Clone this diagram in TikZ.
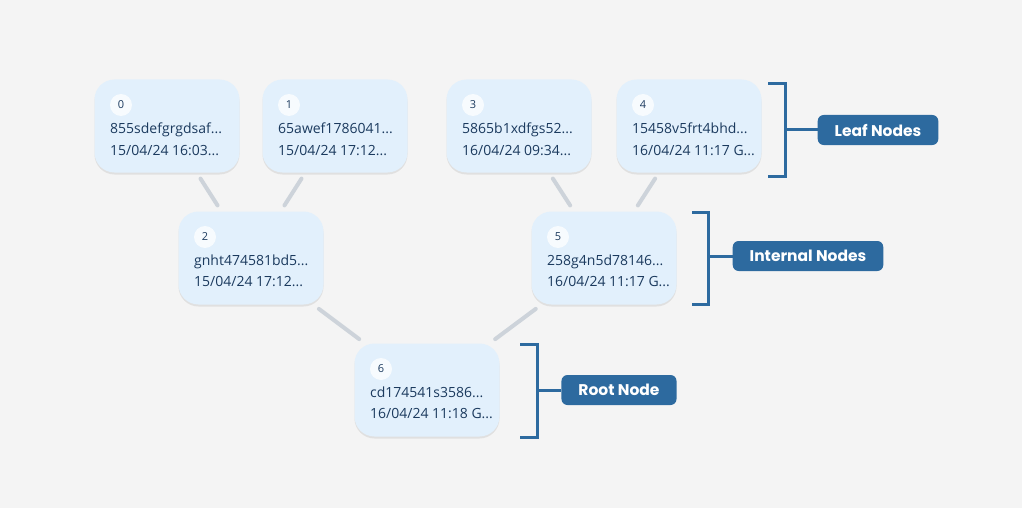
\documentclass[tikz,border=0pt]{standalone}
\usepackage{fontspec}
\setmainfont{Open Sans}
\newfontfamily\labelfont{Poppins}
\usetikzlibrary{positioning,shadows}

\definecolor{bgcol}{HTML}{F4F4F4}
\definecolor{boxcol}{HTML}{E2F0FC}
\definecolor{txtcol}{HTML}{1B3A5E}
\definecolor{badgecol}{HTML}{F7FBFE}
\definecolor{linkcol}{HTML}{CDD3DA}
\definecolor{tagcol}{HTML}{2D6A9F}

\tikzset{
  blk/.style={rectangle, rounded corners=20pt, fill=boxcol,
    minimum width=145pt, minimum height=93pt,
    drop shadow={shadow xshift=0pt, shadow yshift=-2pt, opacity=0.08, fill=black}},
  badge/.style={circle, fill=badgecol, minimum size=22pt, inner sep=0pt,
    text=txtcol, font=\fontsize{11}{13}\selectfont},
  txt/.style={anchor=west, align=left, inner sep=0pt, text=txtcol,
    font=\fontsize{14}{21.5}\selectfont},
  link/.style={draw=linkcol, line width=4pt, line cap=round,
    shorten >=7pt, shorten <=7pt},
  brk/.style={draw=tagcol, line width=3pt},
  tag/.style={rectangle, rounded corners=6pt, fill=tagcol, text=white,
    minimum height=30pt, inner xsep=17pt,
    font=\labelfont\bfseries\fontsize{15.5}{17}\selectfont}
}

\begin{document}
\begin{tikzpicture}[x=1pt, y=-1pt]
  \fill[bgcol] (0,0) rectangle (1022,508);

  % tree nodes
  \node[blk] (n0) at (167,126) {};
  \node[blk] (n1) at (335,126) {};
  \node[blk] (n3) at (519,126) {};
  \node[blk] (n4) at (689,126) {};
  \node[blk] (n2) at (251,258) {};
  \node[blk] (n5) at (604,258) {};
  \node[blk] (n6) at (427,390) {};

  % badges
  \node[badge] (b0) at ([shift={(-46,-21)}]n0) {0};
  \node[badge] (b1) at ([shift={(-46,-21)}]n1) {1};
  \node[badge] (b3) at ([shift={(-46,-21)}]n3) {3};
  \node[badge] (b4) at ([shift={(-46,-21)}]n4) {4};
  \node[badge] (b2) at ([shift={(-46,-21)}]n2) {2};
  \node[badge] (b5) at ([shift={(-46,-21)}]n5) {5};
  \node[badge] (b6) at ([shift={(-46,-21)}]n6) {6};

  % texts
  \node[txt] (t0) at ([shift={(-57,13)}]n0) {855sdefgrgdsaf...\\15/04/24 16:03...};
  \node[txt] (t1) at ([shift={(-57,13)}]n1) {65awef1786041...\\15/04/24 17:12...};
  \node[txt] (t3) at ([shift={(-57,13)}]n3) {5865b1xdfgs52...\\16/04/24 09:34...};
  \node[txt] (t4) at ([shift={(-57,13)}]n4) {15458v5frt4bhd...\\16/04/24 11:17 G...};
  \node[txt] (t2) at ([shift={(-57,13)}]n2) {gnht474581bd5...\\15/04/24 17:12...};
  \node[txt] (t5) at ([shift={(-57,13)}]n5) {258g4n5d78146...\\16/04/24 11:17 G...};
  \node[txt] (t6) at ([shift={(-57,13)}]n6) {cd174541s3586...\\16/04/24 11:18 G...};

  % links
  \draw[link] (n0) -- (n2);
  \draw[link] (n1) -- (n2);
  \draw[link] (n3) -- (n5);
  \draw[link] (n4) -- (n5);
  \draw[link] (n2) -- (n6);
  \draw[link] (n5) -- (n6);

  % brackets and tags
  \node[tag] (leaf) at (878,130) {Leaf Nodes};
  \node[tag] (internal) at (808,256) {Internal Nodes};
  \node[tag] (root) at (619,390) {Root Node};

  \draw[brk] (768,84) -| (785,176) -- (768,176);
  \coordinate (c0) at (785,130);
  \draw[brk] (c0) -- (leaf);

  \draw[brk] (692,212) -| (708,304) -- (692,304);
  \coordinate (c1) at (708,256);
  \draw[brk] (c1) -- (internal);

  \draw[brk] (520,344) -| (537,437) -- (520,437);
  \coordinate (c2) at (537,390);
  \draw[brk] (c2) -- (root);
\end{tikzpicture}
\end{document}
